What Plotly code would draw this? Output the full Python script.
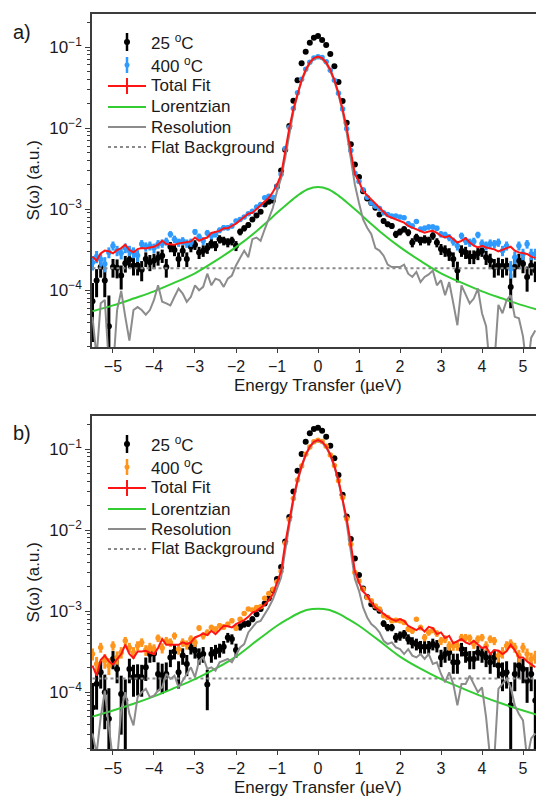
import plotly.graph_objects as go

# Energy transfer grid (µeV)
ENERGY = [
    -5.5, -5.4, -5.3, -5.2, -5.1, -5.0, -4.9, -4.8, -4.7, -4.6,
    -4.5, -4.4, -4.3, -4.2, -4.1, -4.0, -3.9, -3.8, -3.7, -3.6,
    -3.5, -3.4, -3.3, -3.2, -3.1, -3.0, -2.9, -2.8, -2.7, -2.6,
    -2.5, -2.4, -2.3, -2.2, -2.1, -2.0, -1.9, -1.8, -1.7, -1.6,
    -1.5, -1.4, -1.3, -1.2, -1.1, -1.0, -0.9, -0.8, -0.7, -0.6,
    -0.5, -0.4, -0.3, -0.2, -0.1, 0.0, 0.1, 0.2, 0.3, 0.4,
    0.5, 0.6, 0.7, 0.8, 0.9, 1.0, 1.1, 1.2, 1.3, 1.4,
    1.5, 1.6, 1.7, 1.8, 1.9, 2.0, 2.1, 2.2, 2.3, 2.4,
    2.5, 2.6, 2.7, 2.8, 2.9, 3.0, 3.1, 3.2, 3.3, 3.4,
    3.5, 3.6, 3.7, 3.8, 3.9, 4.0, 4.1, 4.2, 4.3, 4.4,
    4.5, 4.6, 4.7, 4.8, 4.9, 5.0, 5.1, 5.2, 5.3,
]

# ---- panel a) ----
A_25C = [
    7.3e-5, 1.32e-4, 1.93e-4, 1.32e-4, 3.6e-5, 1.93e-4, 1.9e-4, 1.52e-4, 2.15e-4, 2.37e-4,
    2.02e-4, 2.02e-4, 1.79e-4, 2.43e-4, 2.22e-4, 2.32e-4, 2.51e-4, 2.67e-4, 1.93e-4, 3.44e-4,
    3.13e-4, 2.43e-4, 3.08e-4, 2.43e-4, 3.44e-4, 3.64e-4, 2.93e-4, 3.08e-4, 3.31e-4, 3.78e-4,
    3.54e-4, 4.27e-4, 4.07e-4, 3.88e-4, 4.07e-4, 3.54e-4, 5.25e-4, 5.81e-4, 6.38e-4, 7.48e-4,
    8.37e-4, 9.27e-4, 1.14e-3, 1.23e-3, 1.28e-3, 1.9e-3, 3.0e-3, 5.4e-3, 1.06e-2, 2.17e-2,
    3.9e-2, 6.3e-2, 8.75e-2, 0.113, 0.130, 0.137, 0.122, 0.106, 0.082, 0.058,
    0.037, 2.16e-2, 1.16e-2, 6.3e-3, 3.56e-3, 2.5e-3, 1.66e-3, 1.35e-3, 1.19e-3, 1.04e-3,
    8.61e-4, 7.14e-4, 6.51e-4, 6.21e-4, 4.91e-4, 5.25e-4, 5.65e-4, 5.14e-4, 3.88e-4, 4.47e-4,
    4.07e-4, 4.27e-4, 4.07e-4, 4.69e-4, 3.88e-4, 3.22e-4, 3.08e-4, 2.80e-4, 2.43e-4, 1.75e-4,
    3.08e-4, 2.93e-4, 2.60e-4, 2.60e-4, 2.85e-4, 3.08e-4, 2.55e-4, 2.32e-4, 1.93e-4, 2.02e-4,
    1.93e-4, 2.02e-4, 1.10e-4, 1.93e-4, 2.32e-4, 2.12e-4, 1.46e-4, 2.02e-4, 1.76e-4,
]
A_400C = [
    2.2e-4, 2.6e-4, 2.4e-4, 2.11e-4, 2.93e-4, 3.54e-4, 3.08e-4, 2.85e-4, 3.31e-4, 3.08e-4,
    2.93e-4, 2.68e-4, 3.71e-4, 3.44e-4, 3.54e-4, 3.31e-4, 3.71e-4, 3.78e-4, 4.0e-4, 4.91e-4,
    4.27e-4, 3.88e-4, 4.07e-4, 3.78e-4, 3.88e-4, 5.25e-4, 4.56e-4, 4.07e-4, 5.09e-4, 4.69e-4,
    4.91e-4, 5.49e-4, 5.91e-4, 5.91e-4, 6.21e-4, 7.14e-4, 7.48e-4, 7.98e-4, 8.77e-4, 9.45e-4,
    1.06e-3, 1.14e-3, 1.38e-3, 1.44e-3, 1.40e-3, 1.9e-3, 2.7e-3, 5.6e-3, 1.02e-2, 1.75e-2,
    2.72e-2, 4.0e-2, 5.3e-2, 6.5e-2, 7.3e-2, 7.6e-2, 7.4e-2, 6.6e-2, 5.15e-2, 3.9e-2,
    2.68e-2, 1.72e-2, 9.8e-3, 5.3e-3, 2.77e-3, 2.19e-3, 1.74e-3, 1.40e-3, 1.19e-3, 1.09e-3,
    1.02e-3, 9.0e-4, 8.61e-4, 8.22e-4, 8.22e-4, 7.98e-4, 7.84e-4, 6.63e-4, 6.21e-4, 7.02e-4,
    5.65e-4, 5.81e-4, 6.03e-4, 6.03e-4, 5.81e-4, 4.91e-4, 4.82e-4, 4.47e-4, 4.0e-4, 3.54e-4,
    4.69e-4, 4.07e-4, 3.88e-4, 4.0e-4, 4.82e-4, 3.78e-4, 3.54e-4, 3.78e-4, 3.71e-4, 3.88e-4,
    3.08e-4, 3.54e-4, 1.84e-4, 2.55e-4, 3.54e-4, 2.8e-4, 3.71e-4, 2.8e-4, 2.8e-4,
]
A_FIT = [
    2.60e-4, 2.32e-4, 2.85e-4, 3.08e-4, 3.02e-4, 2.85e-4, 3.13e-4, 3.31e-4, 3.64e-4, 3.13e-4,
    2.93e-4, 3.22e-4, 3.31e-4, 3.28e-4, 3.37e-4, 3.44e-4, 3.64e-4, 4.07e-4, 3.71e-4, 3.64e-4,
    3.64e-4, 3.78e-4, 3.85e-4, 3.88e-4, 4.00e-4, 4.47e-4, 4.07e-4, 4.31e-4, 4.47e-4, 5.09e-4,
    5.25e-4, 5.40e-4, 5.81e-4, 5.81e-4, 6.21e-4, 6.63e-4, 7.28e-4, 7.98e-4, 8.77e-4, 9.02e-4,
    1.01e-3, 1.11e-3, 1.25e-3, 1.38e-3, 1.63e-3, 2.00e-3, 2.65e-3, 5.4e-3, 1.00e-2, 1.72e-2,
    2.71e-2, 3.92e-2, 5.24e-2, 6.45e-2, 7.29e-2, 7.6e-2, 7.29e-2, 6.45e-2, 5.24e-2, 3.92e-2,
    2.71e-2, 1.72e-2, 1.00e-2, 5.4e-3, 2.7e-3, 2.19e-3, 1.66e-3, 1.48e-3, 1.31e-3, 1.17e-3,
    1.02e-3, 9.02e-4, 8.22e-4, 7.84e-4, 7.48e-4, 7.14e-4, 6.81e-4, 6.21e-4, 5.91e-4, 5.65e-4,
    5.29e-4, 5.14e-4, 5.29e-4, 5.40e-4, 5.09e-4, 4.69e-4, 4.47e-4, 4.69e-4, 4.27e-4, 3.88e-4,
    4.07e-4, 4.39e-4, 3.88e-4, 3.54e-4, 3.37e-4, 3.54e-4, 3.37e-4, 3.31e-4, 3.19e-4, 3.02e-4,
    3.19e-4, 3.31e-4, 3.44e-4, 3.08e-4, 2.93e-4, 2.85e-4, 2.80e-4, 2.60e-4, 2.51e-4,
]
A_RES = [
    4.7e-5, 1.5e-5, 6.9e-5, 7.6e-5, 1.2e-5, 1.0e-5, 5.7e-5, 9.8e-5, 4.7e-5, 2.4e-5,
    5.7e-5, 6.2e-5, 5.7e-5, 5.0e-5, 5.7e-5, 7.6e-5, 1.15e-4, 7.2e-5, 6.9e-5, 6.5e-5,
    8.3e-5, 1.05e-4, 9.1e-5, 7.2e-5, 8.3e-5, 1.15e-4, 1.0e-4, 1.1e-4, 1.6e-4, 1.15e-4,
    1.39e-4, 1.33e-4, 1.1e-4, 1.39e-4, 1.52e-4, 2.02e-4, 2.5e-4, 3.08e-4, 2.55e-4, 4.27e-4,
    4.47e-4, 4.07e-4, 5.65e-4, 7.84e-4, 1.04e-3, 1.66e-3, 2.4e-3, 4.3e-3, 8.8e-3, 1.60e-2,
    2.58e-2, 3.78e-2, 5.05e-2, 6.25e-2, 7.10e-2, 7.42e-2, 7.10e-2, 6.25e-2, 5.05e-2, 3.78e-2,
    2.58e-2, 1.60e-2, 8.8e-3, 4.0e-3, 2.0e-3, 1.19e-3, 7.48e-4, 5.91e-4, 4.91e-4, 3.31e-4,
    3.08e-4, 2.67e-4, 2.07e-4, 1.93e-4, 1.93e-4, 1.93e-4, 2.07e-4, 1.60e-4, 1.46e-4, 1.68e-4,
    1.26e-4, 1.46e-4, 1.57e-4, 1.75e-4, 1.15e-4, 1.33e-4, 8.7e-5, 1.26e-4, 6.9e-5, 3.7e-5,
    1.15e-4, 8.7e-5, 6.9e-5, 7.9e-5, 1.05e-4, 5.2e-5, 3.6e-5, 1.0e-5, 1.2e-5, 6.6e-5,
    5.2e-5, 7.55e-5, 8.7e-5, 4.7e-5, 4.5e-5, 2.7e-5, 1.0e-5, 2.6e-5, 3.2e-5,
]
A_BKG = 1.87e-4
A_ERR_25C = 5.0e-5
A_ERR_400C = 4.5e-5

# ---- panel b) ----
B_25C = [
    6.5e-5, 1.26e-4, 1.76e-4, 1.0e-4, 4.7e-5, 2.57e-4, 1.94e-4, 9.5e-5, 7.9e-5, 1.94e-4,
    1.53e-4, 1.56e-4, 1.53e-4, 2.03e-4, 2.96e-4, 3.0e-4, 1.68e-4, 1.6e-4, 1.68e-4, 2.69e-4,
    3.19e-4, 1.76e-4, 2.83e-4, 2.23e-4, 3.57e-4, 3.25e-4, 2.83e-4, 2.96e-4, 1.25e-4, 2.96e-4,
    3.19e-4, 3.32e-4, 3.64e-4, 4.74e-4, 4.53e-4, 3.32e-4, 6.42e-4, 6.92e-4, 7.05e-4, 7.97e-4,
    9.19e-4, 1.06e-3, 1.24e-3, 1.44e-3, 1.81e-3, 2.5e-3, 3.5e-3, 7.25e-3, 1.45e-2, 2.99e-2,
    5.41e-2, 8.68e-2, 0.123, 0.156, 0.176, 0.183, 0.168, 0.142, 0.110, 7.68e-2,
    4.79e-2, 2.72e-2, 1.47e-2, 7.76e-3, 4.47e-3, 2.8e-3, 1.9e-3, 1.5e-3, 1.22e-3, 1.11e-3,
    1.01e-3, 7.05e-4, 6.3e-4, 6.3e-4, 4.74e-4, 4.97e-4, 5.21e-4, 4.53e-4, 4.12e-4, 3.93e-4,
    3.64e-4, 3.64e-4, 3.64e-4, 3.93e-4, 3.75e-4, 2.69e-4, 2.96e-4, 3.1e-4, 2.34e-4, 2.34e-4,
    3.41e-4, 2.96e-4, 2.57e-4, 2.57e-4, 3.1e-4, 2.96e-4, 2.69e-4, 2.34e-4, 2.69e-4, 2.13e-4,
    1.68e-4, 1.76e-4, 6.9e-5, 1.68e-4, 2.13e-4, 1.94e-4, 1.39e-4, 1.68e-4, 7.9e-5,
]
B_400C = [
    2.96e-4, 2.23e-4, 3.57e-4, 2.45e-4, 2.13e-4, 3.75e-4, 2.69e-4, 3.1e-4, 4.31e-4, 3.57e-4,
    3.1e-4, 3.75e-4, 4.12e-4, 3.31e-4, 3.57e-4, 3.4e-4, 4.66e-4, 3.51e-4, 4.31e-4, 4.12e-4,
    4.97e-4, 3.4e-4, 4.12e-4, 3.85e-4, 4.53e-4, 4.12e-4, 6.18e-4, 4.97e-4, 5.47e-4, 6.3e-4,
    6.0e-4, 6.6e-4, 6.4e-4, 6.9e-4, 7.6e-4, 6.18e-4, 7.97e-4, 9.36e-4, 1.06e-3, 1.03e-3,
    1.11e-3, 1.13e-3, 1.44e-3, 1.65e-3, 1.86e-3, 2.3e-3, 3.1e-3, 6.9e-3, 1.35e-2, 2.45e-2,
    4.15e-2, 6.15e-2, 8.6e-2, 0.106, 0.1225, 0.128, 0.124, 0.108, 8.45e-2, 6.25e-2,
    4.05e-2, 2.52e-2, 1.38e-2, 6.7e-3, 3.0e-3, 2.36e-3, 1.86e-3, 1.47e-3, 1.34e-3, 1.16e-3,
    1.06e-3, 8.77e-4, 8.36e-4, 7.6e-4, 7.75e-4, 7.6e-4, 7.26e-4, 6.01e-4, 5.73e-4, 7.97e-4,
    6.3e-4, 4.74e-4, 5.47e-4, 5.83e-4, 5.31e-4, 4.31e-4, 4.53e-4, 3.75e-4, 3.75e-4, 3.75e-4,
    4.74e-4, 4.74e-4, 4.66e-4, 3.93e-4, 4.53e-4, 4.74e-4, 3.75e-4, 4.53e-4, 4.31e-4, 2.83e-4,
    3.1e-4, 3.75e-4, 3.99e-4, 3.57e-4, 2.83e-4, 3.57e-4, 2.96e-4, 2.57e-4, 2.75e-4,
]
B_FIT = [
    2.13e-4, 1.60e-4, 2.50e-4, 2.83e-4, 2.40e-4, 2.19e-4, 2.57e-4, 2.96e-4, 3.85e-4, 2.96e-4,
    2.64e-4, 3.19e-4, 3.19e-4, 3.25e-4, 3.07e-4, 2.96e-4, 3.51e-4, 4.53e-4, 3.85e-4, 3.85e-4,
    3.93e-4, 3.85e-4, 4.12e-4, 3.93e-4, 4.12e-4, 4.74e-4, 4.97e-4, 5.31e-4, 5.07e-4, 5.73e-4,
    5.21e-4, 5.83e-4, 6.6e-4, 6.5e-4, 6.3e-4, 6.92e-4, 7.26e-4, 7.75e-4, 8.51e-4, 9.63e-4,
    1.01e-3, 1.11e-3, 1.20e-3, 1.36e-3, 1.62e-3, 2.25e-3, 3.1e-3, 6.8e-3, 1.37e-2, 2.48e-2,
    4.11e-2, 6.19e-2, 8.54e-2, 0.107, 0.123, 0.129, 0.123, 0.107, 8.54e-2, 6.19e-2,
    4.11e-2, 2.48e-2, 1.37e-2, 6.8e-3, 3.1e-3, 2.25e-3, 1.75e-3, 1.55e-3, 1.28e-3, 1.11e-3,
    1.01e-3, 9.36e-4, 8.51e-4, 7.97e-4, 7.6e-4, 7.97e-4, 7.6e-4, 6.6e-4, 6.18e-4, 5.83e-4,
    6.3e-4, 5.62e-4, 6.41e-4, 6.18e-4, 5.21e-4, 5.47e-4, 4.66e-4, 4.97e-4, 4.0e-4, 4.31e-4,
    4.53e-4, 4.12e-4, 3.93e-4, 4.31e-4, 3.93e-4, 3.51e-4, 3.64e-4, 2.96e-4, 3.31e-4, 3.25e-4,
    2.96e-4, 3.19e-4, 3.85e-4, 3.31e-4, 2.69e-4, 2.69e-4, 2.4e-4, 2.23e-4, 2.03e-4,
]
B_RES = [
    3.1e-5, 1.75e-5, 4.9e-5, 1.05e-4, 3.7e-5, 1.45e-5, 1.45e-5, 5.96e-5, 1.0e-4, 5.4e-5,
    3.9e-5, 8.7e-5, 1.0e-4, 1.1e-4, 8.7e-5, 9.1e-5, 1.05e-4, 1.15e-4, 1.68e-4, 1.46e-4,
    1.6e-4, 1.15e-4, 1.39e-4, 1.68e-4, 2.03e-4, 1.53e-4, 2.45e-4, 2.69e-4, 1.94e-4, 2.03e-4,
    1.85e-4, 2.34e-4, 2.45e-4, 2.57e-4, 2.34e-4, 2.96e-4, 3.57e-4, 3.93e-4, 5.47e-4, 6.3e-4,
    7.26e-4, 7.6e-4, 9.2e-4, 1.11e-3, 1.4e-3, 1.95e-3, 2.6e-3, 5.6e-3, 1.22e-2, 2.32e-2,
    3.95e-2, 6.03e-2, 8.38e-2, 0.105, 0.121, 0.127, 0.121, 0.105, 8.38e-2, 6.03e-2,
    3.95e-2, 2.32e-2, 1.20e-2, 5.4e-3, 2.5e-3, 1.78e-3, 1.11e-3, 8.36e-4, 6.92e-4, 6.3e-4,
    5.47e-4, 4.31e-4, 3.93e-4, 4.12e-4, 3.57e-4, 3.4e-4, 2.96e-4, 3.4e-4, 2.83e-4, 2.69e-4,
    2.96e-4, 2.57e-4, 2.96e-4, 2.23e-4, 2.34e-4, 1.68e-4, 1.33e-4, 1.76e-4, 1.26e-4, 6.9e-5,
    1.26e-4, 1.26e-4, 1.6e-4, 1.26e-4, 1.0e-4, 1.15e-4, 4.9e-5, 1.5e-5, 1.5e-5, 1.1e-4,
    1.26e-4, 1.46e-4, 1.15e-4, 6.9e-5, 5.4e-5, 4.5e-5, 1.5e-5, 2.7e-5, 3.1e-5,
]
B_BKG = 1.48e-4
B_ERR_25C = 6.5e-5
B_ERR_400C = 5.0e-5

# Lorentzian components, sampled on a coarser grid
LOR_E = [-5.5, -5.0, -4.5, -4.0, -3.5, -3.0, -2.5, -2.0, -1.5, -1.25, -1.0, -0.75, -0.5, -0.25,
         0.0, 0.25, 0.5, 0.75, 1.0, 1.25, 1.5, 2.0, 2.5, 3.0, 3.5, 4.0, 4.5, 5.0, 5.5]
A_LOR = [5.5e-5, 6.5e-5, 7.9e-5, 9.7e-5, 1.24e-4, 1.62e-4, 2.3e-4, 3.4e-4, 5.35e-4, 6.9e-4,
         9.0e-4, 1.16e-3, 1.47e-3, 1.76e-3, 1.88e-3, 1.76e-3, 1.47e-3, 1.16e-3, 9.0e-4, 6.9e-4,
         5.35e-4, 3.4e-4, 2.3e-4, 1.62e-4, 1.24e-4, 9.7e-5, 7.9e-5, 6.5e-5, 5.5e-5]
B_LOR = [5.0e-5, 5.95e-5, 7.2e-5, 8.9e-5, 1.13e-4, 1.45e-4, 1.95e-4, 2.75e-4, 4.3e-4, 5.35e-4,
         6.6e-4, 7.9e-4, 9.3e-4, 1.04e-3, 1.07e-3, 1.04e-3, 9.3e-4, 7.9e-4, 6.6e-4, 5.35e-4,
         4.3e-4, 2.75e-4, 1.95e-4, 1.45e-4, 1.13e-4, 8.9e-5, 7.2e-5, 5.95e-5, 5.0e-5]

for _name, _s in [("A_25C", A_25C), ("A_400C", A_400C), ("A_FIT", A_FIT), ("A_RES", A_RES),
                  ("B_25C", B_25C), ("B_400C", B_400C), ("B_FIT", B_FIT), ("B_RES", B_RES)]:
    assert len(_s) == len(ENERGY), _name
assert len(A_LOR) == len(LOR_E) and len(B_LOR) == len(LOR_E)

Y_TICKS = [1e-4, 1e-3, 1e-2, 1e-1]
Y_TICKTEXT = ["10<sup>\u22124</sup>", "10<sup>\u22123</sup>", "10<sup>\u22122</sup>", "10<sup>\u22121</sup>"]
X_TICKS = [-5, -4, -3, -2, -1, 0, 1, 2, 3, 4, 5]

# ---- geometry ----
W, H = 536, 796
ML, MR, MT, MB = 92, 0, 14, 47
PW = W - ML - MR
PH = H - MT - MB


def fx(px):
    return (px - ML) / PW


def fy(py):
    return (H - MB - py) / PH


TOP_DOMAIN = [fy(347), 1.0]
BOT_DOMAIN = [0.0, fy(416)]
X_RANGE = [-5.512, 5.317]
Y_RANGE = [-4.70, -0.593]

FONT = "Liberation Sans, Arial, sans-serif"
BLACK = "#000000"
BLUE = "#2f9bff"
ORANGE = "#ff951c"
RED = "#ff1414"
GREEN = "#33cc33"
GREY = "#8c8c8c"
DOTS = "#8a8a8a"
AXIS = "#3c3c3c"
TEXT = "#1a1a1a"

fig = go.Figure()


def add_panel(xa, ya, cold, hot, hot_color, fit, res, lor, bkg, err_cold, err_hot):
    fig.add_trace(go.Scatter(
        x=ENERGY, y=cold, mode="markers", xaxis=xa, yaxis=ya, showlegend=False,
        marker=dict(color=BLACK, size=6),
        error_y=dict(type="constant", value=err_cold, color=BLACK, thickness=3, width=0)))
    fig.add_trace(go.Scatter(
        x=ENERGY, y=hot, mode="markers", xaxis=xa, yaxis=ya, showlegend=False,
        marker=dict(color=hot_color, size=5.5),
        error_y=dict(type="constant", value=err_hot, color=hot_color, thickness=3, width=0)))
    fig.add_trace(go.Scatter(
        x=[ENERGY[0], ENERGY[-1]], y=[bkg, bkg], mode="lines", xaxis=xa, yaxis=ya,
        showlegend=False, line=dict(color=DOTS, width=2, dash="dot")))
    fig.add_trace(go.Scatter(
        x=LOR_E, y=lor, mode="lines", xaxis=xa, yaxis=ya, showlegend=False,
        line=dict(color=GREEN, width=2, shape="spline")))
    fig.add_trace(go.Scatter(
        x=ENERGY, y=res, mode="lines", xaxis=xa, yaxis=ya, showlegend=False,
        line=dict(color=GREY, width=2)))
    fig.add_trace(go.Scatter(
        x=ENERGY, y=fit, mode="lines", xaxis=xa, yaxis=ya, showlegend=False,
        line=dict(color=RED, width=2)))


add_panel("x", "y", A_25C, A_400C, BLUE, A_FIT, A_RES, A_LOR, A_BKG, A_ERR_25C, A_ERR_400C)
add_panel("x2", "y2", B_25C, B_400C, ORANGE, B_FIT, B_RES, B_LOR, B_BKG, B_ERR_25C, B_ERR_400C)

minor_vals = [m * 10.0 ** e for e in range(-5, 0) for m in range(2, 10)]


def xaxis_style(anchor):
    return dict(
        anchor=anchor, domain=[0, 1], range=X_RANGE, showgrid=False, zeroline=False,
        showline=True, mirror=True, linecolor=AXIS, linewidth=1.5,
        ticks="outside", ticklen=4, tickwidth=1.2, tickcolor=AXIS,
        tickmode="array", tickvals=X_TICKS, automargin=False,
        tickfont=dict(family=FONT, size=16, color=TEXT))


def yaxis_style(anchor, domain):
    return dict(
        anchor=anchor, domain=domain, type="log", range=Y_RANGE, showgrid=False,
        zeroline=False, showline=True, mirror=False, linecolor=AXIS, linewidth=1.5,
        ticks="outside", ticklen=5, tickwidth=1.2, tickcolor=AXIS,
        tickmode="array", tickvals=Y_TICKS, ticktext=Y_TICKTEXT, automargin=False,
        tickfont=dict(family=FONT, size=17, color=TEXT),
        minor=dict(ticks="outside", ticklen=3, tickwidth=1, tickcolor=AXIS,
                   tickmode="array", tickvals=minor_vals, showgrid=False))


shapes = []
annotations = []


def legend(top, hot_color):
    rows = [top + 28, top + 51, top + 72, top + 93, top + 113, top + 133]
    cx = 127
    # 25 °C
    shapes.append(dict(type="line", xref="paper", yref="paper", x0=fx(cx), x1=fx(cx),
                       y0=fy(rows[0] - 9), y1=fy(rows[0] + 9), line=dict(color=BLACK, width=2.5)))
    shapes.append(dict(type="circle", xref="paper", yref="paper", xsizemode="pixel",
                       ysizemode="pixel", xanchor=fx(cx), yanchor=fy(rows[0]),
                       x0=-3, x1=3, y0=-3, y1=3, fillcolor=BLACK, line=dict(width=0)))
    # 400 °C
    shapes.append(dict(type="line", xref="paper", yref="paper", x0=fx(cx), x1=fx(cx),
                       y0=fy(rows[1] - 8), y1=fy(rows[1] + 8), line=dict(color=hot_color, width=2.5)))
    shapes.append(dict(type="circle", xref="paper", yref="paper", xsizemode="pixel",
                       ysizemode="pixel", xanchor=fx(cx), yanchor=fy(rows[1]),
                       x0=-2.5, x1=2.5, y0=-2.5, y1=2.5, fillcolor=hot_color, line=dict(width=0)))
    # Total fit
    shapes.append(dict(type="line", xref="paper", yref="paper", x0=fx(108), x1=fx(146),
                       y0=fy(rows[2]), y1=fy(rows[2]), line=dict(color=RED, width=2)))
    shapes.append(dict(type="line", xref="paper", yref="paper", x0=fx(cx), x1=fx(cx),
                       y0=fy(rows[2] - 8), y1=fy(rows[2] + 8), line=dict(color=RED, width=2)))
    # Lorentzian, resolution, flat background
    shapes.append(dict(type="line", xref="paper", yref="paper", x0=fx(108), x1=fx(146),
                       y0=fy(rows[3]), y1=fy(rows[3]), line=dict(color=GREEN, width=2)))
    shapes.append(dict(type="line", xref="paper", yref="paper", x0=fx(108), x1=fx(146),
                       y0=fy(rows[4]), y1=fy(rows[4]), line=dict(color=GREY, width=2)))
    shapes.append(dict(type="line", xref="paper", yref="paper", x0=fx(108), x1=fx(146),
                       y0=fy(rows[5]), y1=fy(rows[5]), line=dict(color=DOTS, width=2, dash="dot")))
    labels = ["25 <sup>o</sup>C", "400 <sup>o</sup>C", "Total Fit", "Lorentzian",
              "Resolution", "Flat Background"]
    for r, lab in zip(rows, labels):
        annotations.append(dict(text=lab, x=fx(149), y=fy(r), xref="paper", yref="paper",
                                xanchor="left", yanchor="middle", showarrow=False,
                                font=dict(family=FONT, size=17, color=TEXT)))


legend(14, BLUE)
legend(416, ORANGE)

for label, py in [("a)", 32), ("b)", 433)]:
    annotations.append(dict(text=label, x=fx(22), y=fy(py), xref="paper", yref="paper",
                            xanchor="center", yanchor="middle", showarrow=False,
                            font=dict(family=FONT, size=20, color=TEXT)))
for py in [(14 + 347) / 2, (416 + 749) / 2]:
    annotations.append(dict(text="S(\u03c9) (a.u.)", x=fx(33), y=fy(py), xref="paper",
                            yref="paper", xanchor="center", yanchor="middle", textangle=-90,
                            showarrow=False, font=dict(family=FONT, size=17, color=TEXT)))
for py in [385.5, 787.5]:
    annotations.append(dict(text="Energy Transfer (\u00b5eV)", x=fx(318), y=fy(py),
                            xref="paper", yref="paper", xanchor="center", yanchor="middle",
                            showarrow=False, font=dict(family=FONT, size=17, color=TEXT)))

fig.update_layout(
    template="none",
    width=W, height=H,
    margin=dict(l=ML, r=MR, t=MT, b=MB, pad=0),
    paper_bgcolor="white", plot_bgcolor="white",
    font=dict(family=FONT, color=TEXT),
    showlegend=False,
    xaxis=xaxis_style("y"),
    yaxis=yaxis_style("x", TOP_DOMAIN),
    xaxis2=xaxis_style("y2"),
    yaxis2=yaxis_style("x2", BOT_DOMAIN),
    shapes=shapes,
    annotations=annotations,
)

fig.write_html("out.html")
